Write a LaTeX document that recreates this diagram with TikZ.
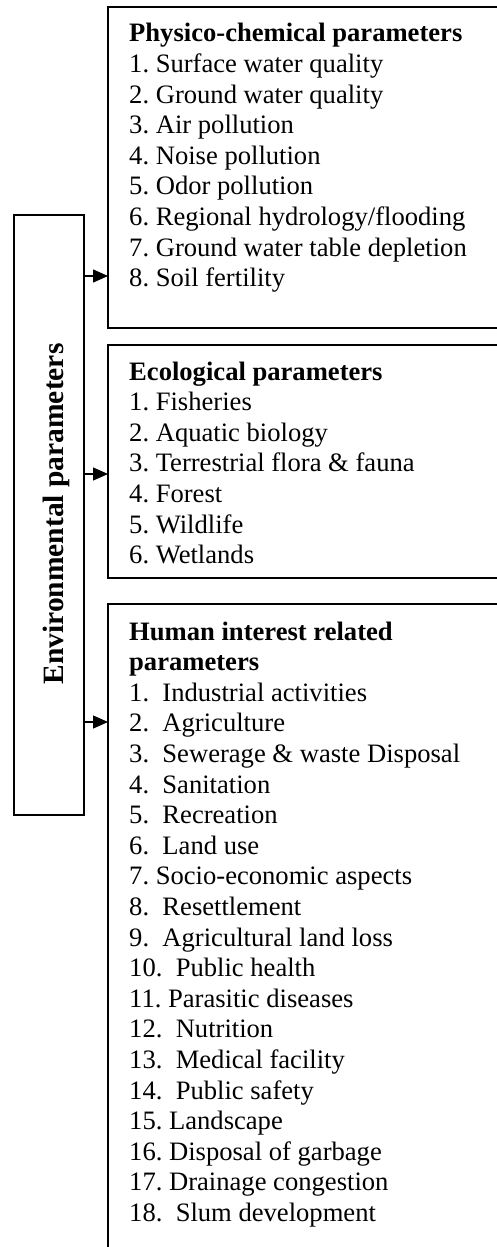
\documentclass[tikz,border=0pt]{standalone}
\usepackage{fontspec}
\setmainfont{Liberation Serif}
\usetikzlibrary{arrows.meta}
\frenchspacing
\begin{document}
\begin{tikzpicture}[x=1pt,y=-1pt,
  frame/.style={draw, line width=1.3pt, inner sep=0pt, outer sep=0pt, anchor=north west},
  list/.style={anchor=base west, inner sep=0pt, font=\fontsize{26.6}{30.6}\selectfont},
  arr/.style={line width=1.3pt, -{Triangle[length=15pt,width=13pt]}}]
\useasboundingbox (0,0) rectangle (497,1247);
\clip (0,0) rectangle (497,1247);
% left box
\node[frame, minimum width=70pt, minimum height=600pt] (env) at (14,215) {};
\node[rotate=90, anchor=base, inner sep=0pt, font=\fontsize{29.5}{34}\selectfont\bfseries] (envt) at (63,514) {Environmental parameters};
% right boxes
\node[frame, minimum width=420pt, minimum height=321pt] (box1) at (108,7) {};
\node[frame, minimum width=420pt, minimum height=233pt] (box2) at (108,345) {};
\node[frame, minimum width=420pt, minimum height=680pt] (box3) at (108,604) {};
% texts
\node[list] (t1) at (129,42) {\begin{tabular}[t]{@{}l@{}}
\textbf{Physico-chemical parameters}\\
1. Surface water quality\\
2. Ground water quality\\
3. Air pollution\\
4. Noise pollution\\
5. Odor pollution\\
6. Regional hydrology/flooding\\
7. Ground water table depletion\\
8. Soil fertility
\end{tabular}};
\node[list] (t2) at (129,380) {\begin{tabular}[t]{@{}l@{}}
\textbf{Ecological parameters}\\
1. Fisheries\\
2. Aquatic biology\\
3. Terrestrial flora \& fauna\\
4. Forest\\
5. Wildlife\\
6. Wetlands
\end{tabular}};
\node[list] (t3) at (129,640) {\begin{tabular}[t]{@{}l@{}}
\textbf{Human interest related}\\
\textbf{parameters}\\
1.~ Industrial activities\\
2.~ Agriculture\\
3.~ Sewerage \& waste Disposal\\
4.~ Sanitation\\
5.~ Recreation\\
6.~ Land use\\
7. Socio-economic aspects\\
8.~ Resettlement\\
9.~ Agricultural land loss\\
10.~ Public health\\
11. Parasitic diseases\\
12.~ Nutrition\\
13.~ Medical facility\\
14.~ Public safety\\
15. Landscape\\
16. Disposal of garbage\\
17. Drainage congestion\\
18.~ Slum development
\end{tabular}};
% arrows
\coordinate (a1) at (108,276);
\coordinate (a2) at (108,474);
\coordinate (a3) at (108,722);
\draw[arr] (env.east |- a1) -- (box1.west |- a1);
\draw[arr] (env.east |- a2) -- (box2.west |- a2);
\draw[arr] (env.east |- a3) -- (box3.west |- a3);
\end{tikzpicture}
\end{document}
